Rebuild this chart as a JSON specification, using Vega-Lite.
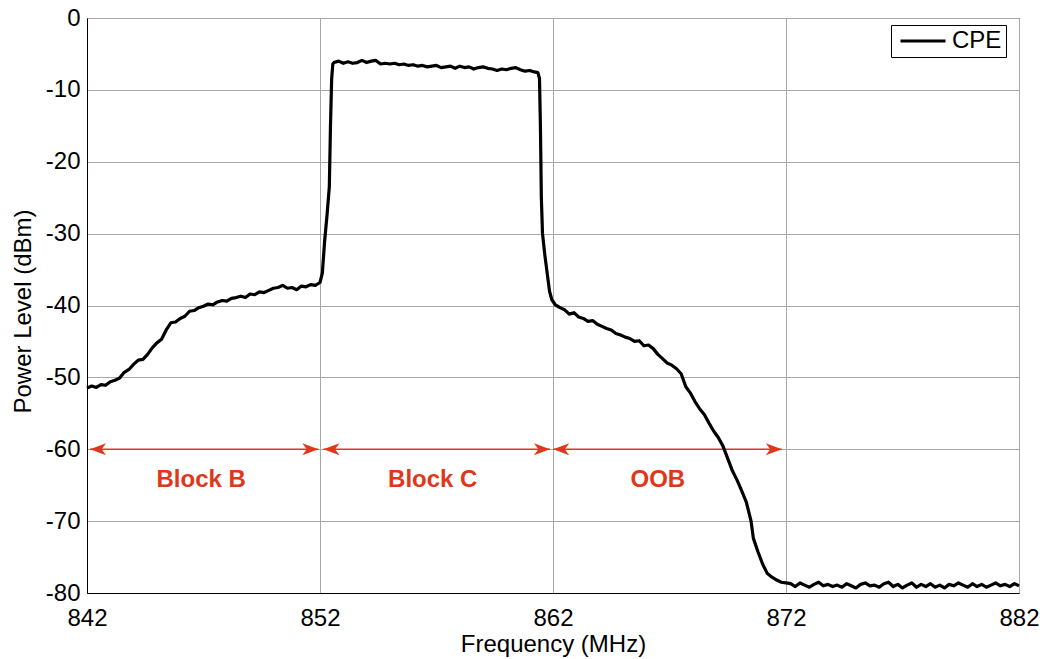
{
  "$schema": "https://vega.github.io/schema/vega-lite/v6.json",
  "width": 932,
  "height": 575,
  "autosize": {"type": "none"},
  "padding": {"left": 87, "top": 18, "right": 24, "bottom": 66},
  "background": "white",
  "config": {
    "font": "Liberation Sans",
    "view": {"stroke": "black", "strokeWidth": 1},
    "axis": {
      "domainColor": "black",
      "gridColor": "#a8a8a8",
      "gridWidth": 1,
      "ticks": false,
      "labelColor": "black",
      "titleColor": "black",
      "labelFontSize": 24,
      "titleFontSize": 24,
      "titleFontWeight": "normal",
      "labelFlush": false,
      "labelOverlap": false
    },
    "legend": {
      "labelFontSize": 24,
      "labelColor": "black"
    }
  },
  "datasets": {
    "spectrum": [
      {"f": 842.0, "p": -51.5}, {"f": 842.2, "p": -51.2}, {"f": 842.4, "p": -51.4}, {"f": 842.6, "p": -51.0},
      {"f": 842.8, "p": -51.1}, {"f": 843.0, "p": -50.6}, {"f": 843.2, "p": -50.4}, {"f": 843.4, "p": -50.1},
      {"f": 843.6, "p": -49.3}, {"f": 843.8, "p": -48.9}, {"f": 844.0, "p": -48.2}, {"f": 844.2, "p": -47.6},
      {"f": 844.4, "p": -47.5}, {"f": 844.6, "p": -46.8}, {"f": 844.8, "p": -45.9}, {"f": 845.0, "p": -45.2},
      {"f": 845.2, "p": -44.7}, {"f": 845.4, "p": -43.4}, {"f": 845.6, "p": -42.4}, {"f": 845.8, "p": -42.3},
      {"f": 846.0, "p": -41.8}, {"f": 846.2, "p": -41.5}, {"f": 846.4, "p": -40.8}, {"f": 846.6, "p": -40.7},
      {"f": 846.8, "p": -40.3}, {"f": 847.0, "p": -40.1}, {"f": 847.2, "p": -39.8}, {"f": 847.4, "p": -39.9},
      {"f": 847.6, "p": -39.5}, {"f": 847.8, "p": -39.3}, {"f": 848.0, "p": -39.4}, {"f": 848.2, "p": -39.0},
      {"f": 848.4, "p": -38.9}, {"f": 848.6, "p": -38.7}, {"f": 848.8, "p": -38.9}, {"f": 849.0, "p": -38.4},
      {"f": 849.2, "p": -38.5}, {"f": 849.4, "p": -38.1}, {"f": 849.6, "p": -38.2}, {"f": 849.8, "p": -37.9},
      {"f": 850.0, "p": -37.6}, {"f": 850.2, "p": -37.5}, {"f": 850.4, "p": -37.2}, {"f": 850.6, "p": -37.6},
      {"f": 850.8, "p": -37.5}, {"f": 851.0, "p": -37.8}, {"f": 851.2, "p": -37.3}, {"f": 851.4, "p": -37.4},
      {"f": 851.6, "p": -37.1}, {"f": 851.8, "p": -37.2}, {"f": 852.0, "p": -36.8}, {"f": 852.1, "p": -35.5},
      {"f": 852.2, "p": -31.0}, {"f": 852.3, "p": -27.5}, {"f": 852.4, "p": -23.5}, {"f": 852.45, "p": -15.0},
      {"f": 852.5, "p": -8.5}, {"f": 852.55, "p": -6.4}, {"f": 852.6, "p": -6.2}, {"f": 852.8, "p": -6.0},
      {"f": 853.0, "p": -6.3}, {"f": 853.2, "p": -6.1}, {"f": 853.4, "p": -6.3}, {"f": 853.6, "p": -6.2},
      {"f": 853.8, "p": -5.9}, {"f": 854.0, "p": -6.2}, {"f": 854.2, "p": -6.0}, {"f": 854.4, "p": -5.9},
      {"f": 854.6, "p": -6.4}, {"f": 854.8, "p": -6.3}, {"f": 855.0, "p": -6.4}, {"f": 855.2, "p": -6.3},
      {"f": 855.4, "p": -6.5}, {"f": 855.6, "p": -6.4}, {"f": 855.8, "p": -6.6}, {"f": 856.0, "p": -6.5},
      {"f": 856.2, "p": -6.7}, {"f": 856.4, "p": -6.6}, {"f": 856.6, "p": -6.8}, {"f": 856.8, "p": -6.7},
      {"f": 857.0, "p": -6.6}, {"f": 857.2, "p": -6.9}, {"f": 857.4, "p": -6.8}, {"f": 857.6, "p": -6.7},
      {"f": 857.8, "p": -7.0}, {"f": 858.0, "p": -6.7}, {"f": 858.2, "p": -6.9}, {"f": 858.4, "p": -6.8},
      {"f": 858.6, "p": -7.1}, {"f": 858.8, "p": -6.9}, {"f": 859.0, "p": -6.8}, {"f": 859.2, "p": -7.0},
      {"f": 859.4, "p": -7.1}, {"f": 859.6, "p": -7.3}, {"f": 859.8, "p": -7.1}, {"f": 860.0, "p": -7.2},
      {"f": 860.2, "p": -7.0}, {"f": 860.4, "p": -6.9}, {"f": 860.6, "p": -7.2}, {"f": 860.8, "p": -7.4},
      {"f": 861.0, "p": -7.3}, {"f": 861.2, "p": -7.5}, {"f": 861.35, "p": -7.6}, {"f": 861.42, "p": -8.4},
      {"f": 861.46, "p": -15.0}, {"f": 861.5, "p": -25.0}, {"f": 861.55, "p": -30.0}, {"f": 861.65, "p": -33.0},
      {"f": 861.75, "p": -35.5}, {"f": 861.85, "p": -38.0}, {"f": 861.95, "p": -39.2}, {"f": 862.1, "p": -39.9},
      {"f": 862.3, "p": -40.3}, {"f": 862.5, "p": -40.6}, {"f": 862.7, "p": -41.2}, {"f": 862.9, "p": -41.0},
      {"f": 863.1, "p": -41.6}, {"f": 863.3, "p": -41.8}, {"f": 863.5, "p": -42.2}, {"f": 863.7, "p": -42.1},
      {"f": 863.9, "p": -42.6}, {"f": 864.1, "p": -42.9}, {"f": 864.3, "p": -43.2}, {"f": 864.5, "p": -43.4},
      {"f": 864.7, "p": -43.9}, {"f": 864.9, "p": -44.1}, {"f": 865.1, "p": -44.4}, {"f": 865.3, "p": -44.6},
      {"f": 865.5, "p": -45.0}, {"f": 865.7, "p": -44.9}, {"f": 865.9, "p": -45.6}, {"f": 866.1, "p": -45.5},
      {"f": 866.3, "p": -46.0}, {"f": 866.5, "p": -46.8}, {"f": 866.7, "p": -47.4}, {"f": 866.9, "p": -48.0},
      {"f": 867.1, "p": -48.3}, {"f": 867.3, "p": -48.8}, {"f": 867.5, "p": -49.5}, {"f": 867.7, "p": -51.3},
      {"f": 867.9, "p": -52.2}, {"f": 868.1, "p": -53.4}, {"f": 868.3, "p": -54.4}, {"f": 868.5, "p": -55.2},
      {"f": 868.7, "p": -56.4}, {"f": 868.9, "p": -57.5}, {"f": 869.1, "p": -58.4}, {"f": 869.3, "p": -59.6},
      {"f": 869.5, "p": -61.3}, {"f": 869.7, "p": -63.0}, {"f": 869.9, "p": -64.3}, {"f": 870.1, "p": -65.8},
      {"f": 870.3, "p": -67.4}, {"f": 870.5, "p": -70.0}, {"f": 870.6, "p": -72.4}, {"f": 870.8, "p": -74.3},
      {"f": 871.0, "p": -76.0}, {"f": 871.2, "p": -77.3}, {"f": 871.4, "p": -77.8}, {"f": 871.6, "p": -78.2},
      {"f": 871.8, "p": -78.5}, {"f": 872.0, "p": -78.6}, {"f": 872.2, "p": -78.7}, {"f": 872.4, "p": -79.1},
      {"f": 872.6, "p": -78.6}, {"f": 872.8, "p": -78.9}, {"f": 873.0, "p": -79.2}, {"f": 873.2, "p": -78.8},
      {"f": 873.4, "p": -78.5}, {"f": 873.6, "p": -79.0}, {"f": 873.8, "p": -78.8}, {"f": 874.0, "p": -79.1},
      {"f": 874.2, "p": -78.9}, {"f": 874.4, "p": -79.2}, {"f": 874.6, "p": -78.7}, {"f": 874.8, "p": -79.0},
      {"f": 875.0, "p": -79.3}, {"f": 875.2, "p": -78.8}, {"f": 875.4, "p": -78.6}, {"f": 875.6, "p": -79.0},
      {"f": 875.8, "p": -78.9}, {"f": 876.0, "p": -79.2}, {"f": 876.2, "p": -78.7}, {"f": 876.4, "p": -78.5},
      {"f": 876.6, "p": -79.1}, {"f": 876.8, "p": -78.8}, {"f": 877.0, "p": -79.3}, {"f": 877.2, "p": -78.9},
      {"f": 877.4, "p": -78.6}, {"f": 877.6, "p": -79.2}, {"f": 877.8, "p": -78.8}, {"f": 878.0, "p": -79.1},
      {"f": 878.2, "p": -78.7}, {"f": 878.4, "p": -79.2}, {"f": 878.6, "p": -78.9}, {"f": 878.8, "p": -79.3},
      {"f": 879.0, "p": -78.8}, {"f": 879.2, "p": -79.0}, {"f": 879.4, "p": -78.6}, {"f": 879.6, "p": -78.9},
      {"f": 879.8, "p": -79.2}, {"f": 880.0, "p": -78.7}, {"f": 880.2, "p": -79.1}, {"f": 880.4, "p": -78.8},
      {"f": 880.6, "p": -79.2}, {"f": 880.8, "p": -78.9}, {"f": 881.0, "p": -78.6}, {"f": 881.2, "p": -79.0},
      {"f": 881.4, "p": -78.8}, {"f": 881.6, "p": -79.1}, {"f": 881.8, "p": -78.7}, {"f": 882.0, "p": -79.0}
    ],
    "bands": [
      {"band": "Block B", "lo": 842.13, "hi": 851.93, "mid": 846.9, "level": -60},
      {"band": "Block C", "lo": 852.15, "hi": 861.87, "mid": 856.84, "level": -60},
      {"band": "OOB", "lo": 862.01, "hi": 871.82, "mid": 866.5, "level": -60}
    ]
  },
  "layer": [
    {
      "data": {"name": "bands"},
      "mark": {"type": "rule", "color": "#e0371a", "strokeWidth": 1.6},
      "encoding": {
        "x": {"field": "lo", "type": "quantitative"},
        "x2": {"field": "hi"},
        "y": {"field": "level", "type": "quantitative"}
      }
    },
    {
      "data": {"name": "bands"},
      "transform": [{"fold": ["lo", "hi"], "as": ["end", "tip"]}],
      "mark": {"type": "point", "filled": true, "color": "#e0371a", "opacity": 1, "size": 256, "strokeWidth": 0},
      "encoding": {
        "x": {"field": "tip", "type": "quantitative"},
        "y": {"field": "level", "type": "quantitative"},
        "shape": {
          "field": "end",
          "type": "nominal",
          "scale": {"domain": ["lo", "hi"], "range": ["M0,0L2,-0.75L1.45,0L2,0.75Z", "M0,0L-2,-0.75L-1.45,0L-2,0.75Z"]},
          "legend": null
        }
      }
    },
    {
      "data": {"name": "bands"},
      "mark": {"type": "text", "color": "#e0371a", "fontSize": 24, "fontWeight": "bold", "baseline": "middle", "align": "center"},
      "encoding": {
        "x": {"field": "mid", "type": "quantitative"},
        "y": {"datum": -64.3},
        "text": {"field": "band"}
      }
    },
    {
      "data": {"name": "spectrum"},
      "mark": {"type": "line", "strokeWidth": 3.2, "strokeJoin": "round"},
      "encoding": {
        "x": {
          "field": "f",
          "type": "quantitative",
          "scale": {"domain": [842, 882], "nice": false, "zero": false},
          "axis": {"values": [842, 852, 862, 872, 882], "title": "Frequency (MHz)", "labelPadding": 13, "titlePadding": 2, "labelExpr": "'' + datum.value"}
        },
        "y": {
          "field": "p",
          "type": "quantitative",
          "scale": {"domain": [-80, 0], "nice": false},
          "axis": {"values": [0, -10, -20, -30, -40, -50, -60, -70, -80], "title": "Power Level (dBm)", "labelPadding": 7, "titlePadding": 10, "titleY": 293, "labelExpr": "'' + datum.value"}
        },
        "color": {
          "datum": "CPE",
          "scale": {"range": ["black"]},
          "legend": {
            "title": null,
            "orient": "none",
            "legendX": 804,
            "legendY": 7,
            "strokeColor": "black",
            "fillColor": "white",
            "padding": 4,
            "symbolType": "M-2.5,0L2.5,0",
            "symbolSize": 324,
            "symbolStrokeWidth": 3,
            "symbolOffset": 16,
            "labelOffset": 17,
            "labelExpr": "datum.label + '\u00a0'"
          }
        }
      }
    }
  ]
}
